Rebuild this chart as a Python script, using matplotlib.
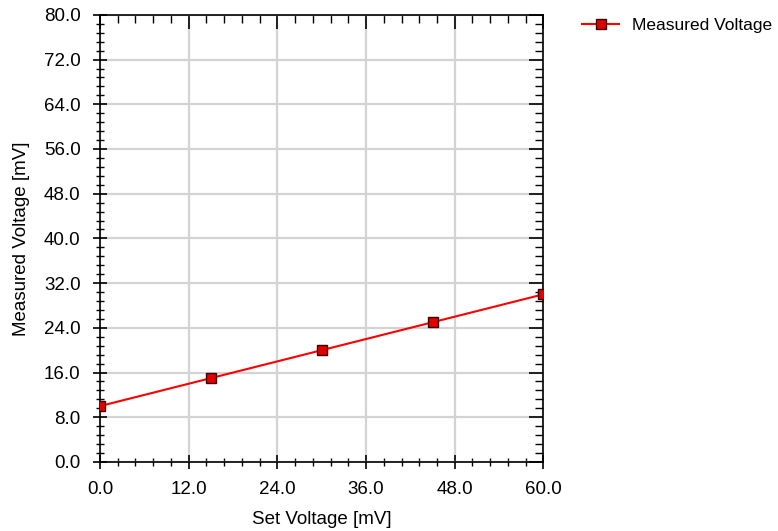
import matplotlib.pyplot as plt
from matplotlib.ticker import MultipleLocator, FormatStrFormatter

set_voltage = [0, 15, 30, 45, 60]
measured_voltage = [10, 15, 20, 25, 30]

plt.rcParams['font.family'] = ['Liberation Sans', 'DejaVu Sans']

fig = plt.figure(figsize=(7.78, 5.31), dpi=100)
ax = fig.add_axes([0.1285, 0.130, 0.570, 0.842])

ax.plot(set_voltage, measured_voltage, color='#ff0000', lw=1.5, marker='s', ms=7.5,
        markerfacecolor='#e00000', markeredgecolor='#400000', markeredgewidth=1,
        label='Measured Voltage', clip_on=True, zorder=3)

ax.set_xlim(0, 60)
ax.set_ylim(0, 80)
ax.xaxis.set_major_locator(MultipleLocator(12))
ax.xaxis.set_minor_locator(MultipleLocator(2.4))
ax.yaxis.set_major_locator(MultipleLocator(8))
ax.yaxis.set_minor_locator(MultipleLocator(1.6))
ax.xaxis.set_major_formatter(FormatStrFormatter('%.1f'))
ax.yaxis.set_major_formatter(FormatStrFormatter('%.1f'))

ax.grid(True, which='major', color='#d3d3d3', lw=1.6, zorder=0)

# left / bottom: ticks cross the spine
ax.tick_params(which='major', direction='inout', length=10, width=1.2, labelsize=13.5,
               color='black', pad=9)
ax.tick_params(which='minor', direction='inout', length=6, width=1)
# top / right: ticks point inward only
ax.tick_params(axis='x', which='both', top=True)
ax.tick_params(axis='y', which='both', right=True)
for t in ax.xaxis.get_major_ticks() + ax.xaxis.get_minor_ticks():
    t.tick2line.set_marker(3)
for t in ax.yaxis.get_major_ticks() + ax.yaxis.get_minor_ticks():
    t.tick2line.set_marker(0)
for s in ax.spines.values():
    s.set_linewidth(1.2)

ax.set_xlabel('Set Voltage [mV]', fontsize=13.5, labelpad=9)
ax.set_ylabel('Measured Voltage [mV]', fontsize=13.5, labelpad=10)

ax.legend(loc='upper left', bbox_to_anchor=(1.088, 0.993), frameon=False, fontsize=12.5,
          handlelength=2.1, handletextpad=0.75, borderpad=0, borderaxespad=0)

fig.savefig('out.png', dpi=100)
